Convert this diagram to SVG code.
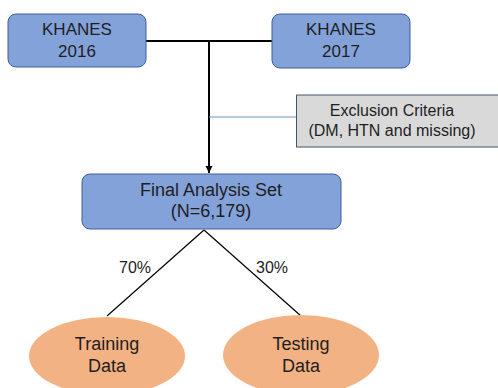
<svg xmlns="http://www.w3.org/2000/svg" width="498" height="388" viewBox="0 0 498 388">
<style>
.box{fill:#84a2da;stroke:#3d5f9a;stroke-width:1}
.ex{fill:#d9d9d9;stroke:#44546a;stroke-width:1}
.ell{fill:#f3b283;stroke:none}
text{font-family:"Liberation Sans",Arial,sans-serif;fill:#1e1e1e;text-anchor:middle}
.t17{font-size:17px}
.t18{font-size:18px}
.t16{font-size:16px}
.t15{font-size:15px}
.ln{stroke:#000;fill:none}
</style>
<defs>
<marker id="arr" markerWidth="8" markerHeight="8" refX="7" refY="4" orient="auto" markerUnits="userSpaceOnUse">
<path d="M0,0.5 L7,4 L0,7.5 Z" fill="#000"/>
</marker>
</defs>
<rect width="498" height="388" fill="#fff"/>
<g id="connectors">
<line class="ln" x1="146" y1="41" x2="272" y2="41" stroke-width="2"/>
<line class="ln" x1="209" y1="41" x2="209" y2="173" stroke-width="2" marker-end="url(#arr)"/>
<line x1="209" y1="117" x2="296" y2="117" stroke="#6d93c8" stroke-width="1"/>
<line class="ln" x1="204" y1="230" x2="107" y2="316" stroke-width="1.2"/>
<line class="ln" x1="204" y1="230" x2="301" y2="316" stroke-width="1.2"/>
<text class="t16" x="135" y="273">70%</text>
<text class="t16" x="272" y="273">30%</text>
</g>
<g id="khanes2016">
<rect class="box" x="8" y="14" width="138" height="53" rx="8"/>
<text class="t17" x="77" y="35">KHANES</text>
<text class="t17" x="77" y="57">2016</text>
</g>
<g id="khanes2017">
<rect class="box" x="272" y="14" width="138" height="54" rx="8"/>
<text class="t17" x="341" y="35">KHANES</text>
<text class="t17" x="341" y="57">2017</text>
</g>
<g id="exclusion">
<rect class="ex" x="296.5" y="95" width="205" height="52"/>
<text class="t16" x="392" y="116">Exclusion Criteria</text>
<text class="t16" x="392" y="136">(DM, HTN and missing)</text>
</g>
<g id="final">
<rect class="box" x="82" y="174" width="259" height="55" rx="8"/>
<text class="t18" x="211" y="196">Final Analysis Set</text>
<text class="t18" x="211" y="217">(N=6,179)</text>
</g>
<g id="training">
<ellipse class="ell" cx="107" cy="356" rx="78" ry="39"/>
<text class="t18" x="107" y="350">Training</text>
<text class="t18" x="107" y="372">Data</text>
</g>
<g id="testing">
<ellipse class="ell" cx="301" cy="355" rx="78" ry="40"/>
<text class="t18" x="301" y="350">Testing</text>
<text class="t18" x="301" y="372">Data</text>
</g>
</svg>
